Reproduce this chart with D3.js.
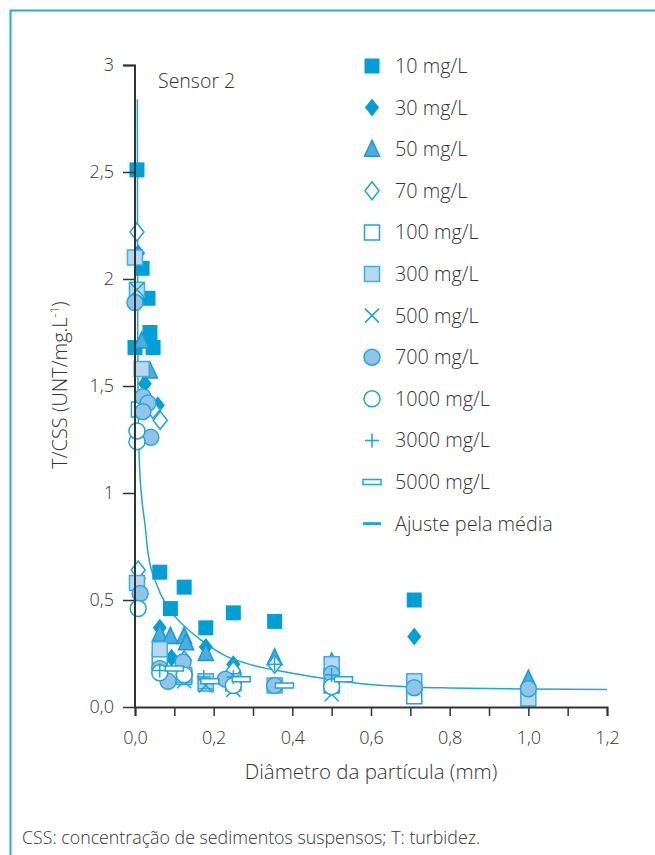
<!DOCTYPE html>
<html>
<head>
<meta charset="utf-8">
<script src="https://cdn.jsdelivr.net/npm/d3@7"></script>
<style>
  body { margin: 0; background: #fff; }
  svg text { font-family: "Open Sans", sans-serif; font-weight: 300; fill: #333; }
</style>
</head>
<body>
<svg id="chart"></svg>
<script>
// series values: [diameter (mm), T/CSS]
var s10 = [[0.005,2.51],[0.018,2.05],[0.033,1.91],[0.038,1.75],[0.0,1.68],[0.046,1.68],[0.063,0.63],[0.09,0.46],[0.125,0.56],[0.18,0.37],[0.25,0.44],[0.355,0.40],[0.71,0.50]];
var s30 = [[0.008,2.12],[0.025,1.51],[0.058,1.41],[0.01,0.60],[0.063,0.37],[0.093,0.23],[0.18,0.28],[0.25,0.20],[0.5,0.20],[0.71,0.33]];
var s50 = [[0.017,1.71],[0.038,1.57],[0.063,0.34],[0.09,0.33],[0.125,0.33],[0.13,0.30],[0.18,0.25],[0.25,0.19],[0.355,0.23],[0.5,0.21],[1.0,0.13]];
var s70 = [[0.005,2.22],[0.046,1.39],[0.064,1.34],[0.008,0.64],[0.063,0.26],[0.125,0.22],[0.25,0.17],[0.355,0.20],[0.5,0.18]];
var s100 = [[0.01,1.39],[0.063,0.22],[0.125,0.14],[0.18,0.11],[0.25,0.12],[0.5,0.10],[0.71,0.05]];
var s300 = [[0.0,2.10],[0.005,1.95],[0.017,1.58],[0.005,0.58],[0.063,0.27],[0.125,0.15],[0.18,0.12],[0.25,0.11],[0.355,0.10],[0.5,0.20],[0.71,0.12],[1.0,0.04]];
var s500 = [[0.005,1.95],[0.125,0.12],[0.18,0.10],[0.25,0.08],[0.5,0.06]];
var s700 = [[0.0,1.89],[0.02,1.45],[0.033,1.42],[0.02,1.38],[0.04,1.26],[0.013,0.53],[0.063,0.18],[0.084,0.12],[0.122,0.21],[0.23,0.13],[0.355,0.10],[0.5,0.155],[0.71,0.09],[1.0,0.085]];
var s1000 = [[0.005,1.24],[0.005,1.29],[0.008,0.46],[0.063,0.16],[0.125,0.15],[0.25,0.10],[0.5,0.095]];
var s3000 = [[0.063,0.17],[0.175,0.14],[0.25,0.14],[0.355,0.20],[0.5,0.15]];
var s5000 = [[0.1,0.18],[0.19,0.12],[0.27,0.13],[0.38,0.10],[0.53,0.13]];
// fitted curve
var fit = [[0.006,2.84],[0.0065,2.2],[0.007,1.7],[0.008,1.4],[0.011,1.15],[0.017,0.98],[0.025,0.86],[0.033,0.72],[0.058,0.56],[0.09,0.45],[0.127,0.375],[0.17,0.31],[0.229,0.24],[0.3,0.195],[0.4,0.158],[0.5,0.128],[0.585,0.107],[0.7,0.094],[0.8,0.089],[0.9,0.086],[1.0,0.084],[1.2,0.082]];

var seriesNames = ["10 mg/L","30 mg/L","50 mg/L","70 mg/L","100 mg/L","300 mg/L","500 mg/L","700 mg/L","1000 mg/L","3000 mg/L","5000 mg/L"];
var seriesData = [s10, s30, s50, s70, s100, s300, s500, s700, s1000, s3000, s5000];
var yTicks = [0, 0.5, 1, 1.5, 2, 2.5, 3];
var xTicks = [0, 0.1, 0.2, 0.3, 0.4, 0.5, 0.6, 0.7, 0.8, 0.9, 1.0, 1.1, 1.2];

var blue = "#009fd6", edge = "#1ea3da";

// marker styles per series
var styles = [
  {shape: "square", fill: blue, stroke: "none"},
  {shape: "diamond", fill: blue, stroke: "none"},
  {shape: "triangle", fill: "#4aaee0", stroke: "#1b98d0"},
  {shape: "diamond", fill: "#fff", stroke: edge},
  {shape: "square", fill: "#fff", stroke: edge},
  {shape: "square", fill: "#b7d9f0", stroke: "#3aaee2"},
  {shape: "x", fill: "none", stroke: edge},
  {shape: "circle", fill: "#8ec5e8", stroke: "#2aa5dc"},
  {shape: "circle", fill: "#fff", stroke: edge},
  {shape: "plus", fill: "none", stroke: edge},
  {shape: "bar", fill: "#fff", stroke: edge}
];

function shapePath(s) {
  switch (s) {
    case "square": return "M-7.5,-7.5H7.5V7.5H-7.5Z";
    case "diamond": return "M0,-9L7,0L0,9L-7,0Z";
    case "triangle": return "M0,-9L7.5,7H-7.5Z";
    case "circle": return "M8,0A8,8 0 1,1 -8,0A8,8 0 1,1 8,0Z";
    case "x": return "M-7,-7L7,7M-7,7L7,-7";
    case "plus": return "M-7,0H7M0,-7V7";
    case "bar": return "M-9,-2.5H9V2.5H-9Z";
  }
}

var margin = {top: 65, left: 135},
    width = 472, height = 642;

var svg = d3.select("#chart").attr("width", 655).attr("height", 855);

// frame
svg.append("path")
  .attr("d", "M10.5,855V10.5H655")
  .attr("fill", "none").attr("stroke", "#2aa8df").attr("stroke-width", 2);

var x = d3.scaleLinear().domain([0, 1.2]).range([0, width]);
var y = d3.scaleLinear().domain([0, 3]).range([height, 0]);
var fmt = function(d) { return d3.format(".1f")(d).replace(".", ","); };

var g = svg.append("g").attr("transform", "translate(" + margin.left + "," + margin.top + ")");

// fit curve
var line = d3.line()
  .x(function(d) { return x(d[0]); })
  .y(function(d) { return y(d[1]); })
  .curve(d3.curveMonotoneX);
g.append("path").datum(fit)
  .attr("d", line)
  .attr("fill", "none").attr("stroke", "#1ea6dc").attr("stroke-width", 1.5);

// points
seriesData.forEach(function(data, i) {
  var st = styles[i];
  g.selectAll(".pt" + i).data(data).enter().append("path")
    .attr("transform", function(d) { return "translate(" + x(d[0]) + "," + y(d[1]) + ")"; })
    .attr("d", shapePath(st.shape))
    .attr("fill", st.fill)
    .attr("stroke", st.stroke)
    .attr("stroke-width", 1.5);
});

// axes
var yAxis = g.append("g")
  .call(d3.axisLeft(y).tickValues(yTicks).tickSize(12).tickPadding(9)
    .tickFormat(function(d) { return d === 0 ? "0,0" : (d % 1 === 0 ? d : fmt(d)); }));
var xAxis = g.append("g").attr("transform", "translate(0," + height + ")")
  .call(d3.axisBottom(x).tickValues(xTicks).tickSize(9).tickPadding(15)
    .tickFormat(function(d, i) { return i % 2 === 0 ? fmt(d) : ""; }));
[yAxis, xAxis].forEach(function(a) {
  a.select(".domain").attr("stroke", "#333").attr("stroke-width", 2);
  a.selectAll(".tick line").attr("stroke", "#333").attr("stroke-width", 1.5);
  a.selectAll("text").style("font-size", "18px").style("font-family", "'Open Sans', sans-serif");
});
yAxis.select(".domain").attr("d", "M-12,0.5H0V" + height);

g.append("text").attr("x", 23).attr("y", 23).style("font-size", "19.5px").text("Sensor 2");

// axis titles
svg.append("text")
  .attr("transform", "translate(67,385) rotate(-90)")
  .attr("text-anchor", "middle").style("font-size", "20px")
  .html("T/CSS (UNT/mg.L<tspan dy='-8' font-size='12'>-1</tspan><tspan dy='8'>)</tspan>");
svg.append("text").attr("x", 371).attr("y", 779).attr("text-anchor", "middle")
  .style("font-size", "20.5px").text("Diâmetro da partícula (mm)");

// legend
var legend = svg.append("g").attr("transform", "translate(372,66)");
seriesNames.forEach(function(name, i) {
  var row = legend.append("g").attr("transform", "translate(0," + i * 41.6 + ")");
  row.append("path").attr("d", shapePath(styles[i].shape))
    .attr("fill", styles[i].fill).attr("stroke", styles[i].stroke).attr("stroke-width", 1.5);
  row.append("text").attr("x", 23).attr("y", 7).style("font-size", "19.8px").text(name);
});
var fitRow = legend.append("g").attr("transform", "translate(0," + 11 * 41.6 + ")");
fitRow.append("line").attr("x1", -9).attr("x2", 9)
  .attr("stroke", "#1ea6dc").attr("stroke-width", 3);
fitRow.append("text").attr("x", 23).attr("y", 7).style("font-size", "19.8px").text("Ajuste pela média");

svg.append("text").attr("x", 22).attr("y", 844).style("font-size", "17.8px")
  .text("CSS: concentração de sedimentos suspensos; T: turbidez.");
</script>
</body>
</html>
